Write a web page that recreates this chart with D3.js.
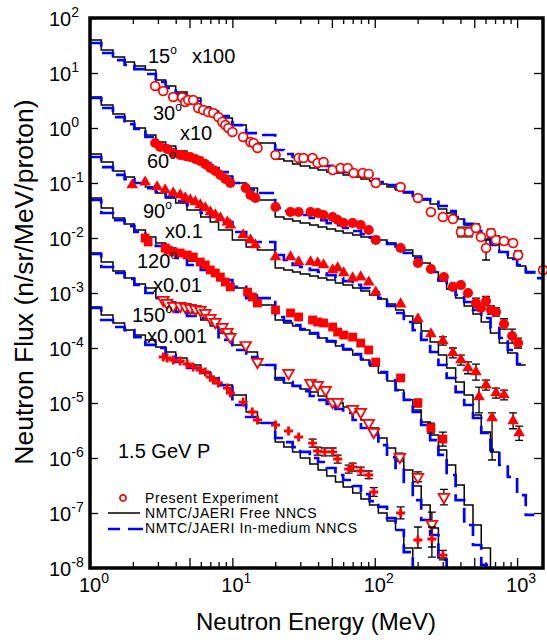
<!DOCTYPE html>
<html>
<head>
<meta charset="utf-8">
<script src="https://cdn.jsdelivr.net/npm/d3@7"></script>
<style>
  body { margin: 0; background: #fff; }
  svg { display: block; }
  text { font-family: "Liberation Sans", Arial, sans-serif; fill: #000; }
</style>
</head>
<body>
<svg id="chart" width="547" height="642"></svg>
<script>
// histogram bin edges (MeV), shared by every calculation
const binEdges = [1, 1.2, 1.45, 1.75, 2.05, 2.45, 2.9, 3.4, 4, 4.8, 6, 7, 8, 10, 12.5, 15, 20,
  23, 26.5, 30, 35, 40, 46, 53, 60, 70, 80, 92, 106, 122, 140, 160, 185, 212, 245, 280, 320,
  370, 425, 490, 560, 650, 750, 860, 1000, 1150, 1320, 1520];

// NMTC/JAERI free NNCS (black) and in-medium NNCS (blue), one value per bin, already scaled
const free15 = [39.8, 26.2, 19.5, 15.8, 13.4, 11.3, 7.46, 5.8, 4.52, 3.51, 2.41, 2.04, 1.52, 1.13, 0.556, 0.534,
  0.273, 0.251, 0.221, 0.204, 0.187, 0.172, 0.158, 0.152, 0.140, 0.129, 0.118, 0.109, 0.096, 0.0846, 0.0746,
  0.0658, 0.0581, 0.0491, 0.0415, 0.0337, 0.0285, 0.0221, 0.0172, 0.01285, 0.0096, 0.00746, 0.00556, 0.00433, 0.0031, 0.00231];
const medium15 = [35.1, 23.1, 17.2, 14.0, 11.8, 9.6, 6.86, 5.34, 4.15, 3.1, 2.31, 1.95, 1.65, 1.13, 0.81, 0.746,
  0.398, 0.337, 0.297, 0.273, 0.251, 0.221, 0.204, 0.18, 0.158, 0.146, 0.134, 0.118, 0.104, 0.092, 0.081,
  0.0686, 0.0581, 0.0512, 0.0452, 0.0382, 0.031, 0.0241, 0.018, 0.0134, 0.01, 0.00746, 0.00556, 0.00415, 0.00323, 0.00241, 0.00187];

const free30 = [3.66, 2.62, 1.8, 1.34, 1.0, 0.746, 0.556, 0.471, 0.382, 0.297, 0.221, 0.172, 0.134, 0.1, 0.081, 0.0491,
  0.0241, 0.0221, 0.0204, 0.0187, 0.0172, 0.0158, 0.0146, 0.0134, 0.0123, 0.01135, 0.0104, 0.01, 0.0092, 0.0081,
  0.00686, 0.00605, 0.00471, 0.00351, 0.00241, 0.00165, 0.00118, 0.00081, 0.00058, 0.000415, 0.000297, 0.000188,
  0.000123, 0.000081, 0.000049];
const medium30 = [3.51, 2.31, 1.58, 1.18, 0.959, 0.686, 0.491, 0.415, 0.323, 0.262, 0.231, 0.187, 0.158, 0.1, 0.0746, 0.0658,
  0.0351, 0.031, 0.0285, 0.0262, 0.0231, 0.0212, 0.0187, 0.0172, 0.0152, 0.0134, 0.0118, 0.0104, 0.0092, 0.00778,
  0.00658, 0.00534, 0.00433, 0.00323, 0.00241, 0.00172, 0.00123, 0.00092, 0.000686, 0.000491, 0.000351, 0.000231,
  0.000152, 0.000092, 0.0000512];

const free60 = [0.337, 0.241, 0.165, 0.129, 0.1, 0.0846, 0.0658, 0.0534, 0.0433, 0.0323, 0.0241, 0.0195, 0.014, 0.0092, 0.00686, 0.00605,
  0.00285, 0.00262, 0.00241, 0.00221, 0.00204, 0.00187, 0.00172, 0.00152, 0.0014, 0.00123, 0.00109, 0.00092,
  0.000778, 0.00063, 0.000491, 0.000382, 0.000285, 0.000204, 0.000129, 0.0000746, 0.0000433, 0.0000241,
  0.000014, 0.00000605, 0.00000297, 0.00000129];
const medium60 = [0.297, 0.195, 0.14, 0.118, 0.1, 0.081, 0.0686, 0.0556, 0.0471, 0.0398, 0.0285, 0.0241, 0.0195, 0.01285, 0.00846, 0.00846,
  0.00491, 0.00398, 0.00323, 0.00297, 0.00262, 0.00241, 0.00212, 0.00187, 0.00165, 0.0014, 0.00123, 0.00104,
  0.00081, 0.00058, 0.000433, 0.000297, 0.000212, 0.00014, 0.0000846, 0.0000491, 0.0000285, 0.0000158,
  0.0000092, 0.00000534, 0.00000285, 0.0000014, 0.000000746, 0.000000452, 0.000000212, 0.0000000921];

const free90 = [0.0534, 0.0351, 0.0231, 0.018, 0.014, 0.0104, 0.0081, 0.00658, 0.00512, 0.00382, 0.00285, 0.00231, 0.00172, 0.00123, 0.00092, 0.000605,
  0.000323, 0.000285, 0.000251, 0.000212, 0.00018, 0.000152, 0.000129, 0.000109, 0.000092, 0.0000746, 0.0000605,
  0.0000471, 0.0000351, 0.0000251, 0.0000172, 0.0000114, 0.00000746, 0.00000452, 0.00000262, 0.0000014,
  0.000000746, 0.000000323, 0.00000014, 0.0000000605, 0.0000000231, 0.000000005];
const medium90 = [0.0491, 0.0285, 0.0212, 0.0165, 0.01285, 0.00846, 0.00716, 0.00556, 0.00433, 0.00323, 0.00262, 0.00212, 0.00172, 0.00129, 0.00081, 0.00081,
  0.000366, 0.00031, 0.000262, 0.000221, 0.000187, 0.000158, 0.000134, 0.000113, 0.0000959, 0.0000778, 0.0000631,
  0.0000512, 0.0000366, 0.0000262, 0.0000172, 0.0000114, 0.00000686, 0.00000398, 0.00000212, 0.00000114,
  0.000000491, 0.000000172, 0.0000000605, 0.0000000262, 0.0000000114, 0.000000005];

const free120 = [0.00534, 0.00366, 0.00251, 0.00187, 0.00146, 0.00123, 0.00081, 0.000686, 0.000556, 0.000433, 0.000323, 0.000251, 0.000187, 0.000113, 0.0000846, 0.0000491,
  2.62e-5, 2.31e-5, 2.04e-5, 1.8e-5, 1.58e-5, 1.34e-5, 1.18e-5, 1.0e-5, 8.46e-6, 6.86e-6, 4.91e-6, 3.51e-6,
  2.31e-6, 1.52e-6, 1.0e-6, 6.05e-7, 3.1e-7, 1.4e-7, 5.34e-8, 1.52e-8, 5e-9];
const medium120 = [0.00512, 0.00297, 0.00231, 0.0018, 0.0014, 0.001, 0.00081, 0.000658, 0.000452, 0.000382, 0.000351, 0.000241, 0.00014, 0.000092, 0.0000686, 0.0000491,
  2.85e-5, 2.41e-5, 2.04e-5, 1.65e-5, 1.34e-5, 1.14e-5, 9.6e-6, 7.78e-6, 6.58e-6, 4.91e-6, 3.51e-6, 2.62e-6,
  1.72e-6, 1.04e-6, 6.58e-7, 3.66e-7, 1.72e-7, 7.46e-8, 3.98e-8, 1.4e-8, 5e-9];

const free150 = [5.56e-4, 3.98e-4, 2.85e-4, 2.12e-4, 1.72e-4, 1.4e-4, 1.04e-4, 8.46e-5, 6.58e-5, 4.91e-5, 3.66e-5, 2.85e-5, 2.12e-5, 1.4e-5, 6.86e-6, 4.33e-6,
  1.95e-6, 1.58e-6, 1.29e-6, 1.0e-6, 7.78e-7, 6.05e-7, 4.71e-7, 3.66e-7, 2.97e-7, 2.31e-7, 1.8e-7, 1.4e-7,
  1.0e-7, 7.16e-8, 4.91e-8, 2.31e-8, 5e-9];
const medium150 = [5.34e-4, 3.23e-4, 2.41e-4, 2.12e-4, 1.58e-4, 1.14e-4, 1.0e-4, 7.46e-5, 5.56e-5, 4.33e-5, 3.51e-5, 2.85e-5, 2.12e-5, 9.2e-6, 5.56e-6, 4.33e-6,
  2.31e-6, 1.95e-6, 1.58e-6, 1.29e-6, 1.0e-6, 8.46e-7, 6.58e-7, 4.91e-7, 3.98e-7, 3.1e-7, 2.21e-7, 1.65e-7,
  1.29e-7, 8.1e-8, 4.91e-8, 1.95e-8, 5e-9];

// present experiment: [energy, flux] or [energy, flux, low, high]
const exp15 = [[2.87, 5.8], [3.27, 4.7], [3.84, 3.66], [4.44, 3.6], [4.67, 2.97], [4.9, 3.23], [5.31, 3.23], [5.76, 2.31],
  [6.25, 2.12], [6.78, 1.95], [7.35, 1.87], [7.97, 1.58], [8.5, 1.29], [8.93, 1.13], [9.37, 1.0], [10.0, 0.846],
  [11.9, 0.686], [13.4, 0.556], [14.1, 0.534], [15.0, 0.433], [20.1, 0.323], [29.2, 0.285], [31.6, 0.285],
  [36.6, 0.285], [39.7, 0.231], [43.7, 0.241], [50.6, 0.172], [57.6, 0.187], [64.6, 0.187], [71.1, 0.152],
  [82.3, 0.152], [90.7, 0.146], [101.6, 0.1], [152, 0.0846], [201, 0.0534], [248, 0.0297], [301, 0.0241],
  [354, 0.0221], [403, 0.01285, 0.0105, 0.0158], [459, 0.01285, 0.0105, 0.0158], [514, 0.0152, 0.0129, 0.018],
  [557, 0.0104], [605, 0.00658, 0.00398, 0.0092], [656, 0.0123, 0.0104, 0.0145], [711, 0.0092, 0.0078, 0.0109],
  [809, 0.0088, 0.0077, 0.01], [937, 0.0081, 0.0071, 0.0092], [1016, 0.0049, 0.0042, 0.0058], [1524, 0.00262, 0.0023, 0.003]];

const exp30 = [[2.87, 0.534], [3.11, 0.452], [3.48, 0.415], [3.84, 0.351], [4.30, 0.323], [4.67, 0.31], [5.06, 0.297],
  [5.49, 0.273], [5.95, 0.251], [6.45, 0.221], [7.0, 0.187], [7.59, 0.165], [8.23, 0.14], [8.93, 0.118], [9.68, 0.1],
  [12.4, 0.081], [13.4, 0.0605], [14.5, 0.0534], [20.1, 0.0366], [25.6, 0.0297], [29.2, 0.0297], [35.4, 0.0297],
  [39.7, 0.0285], [43.7, 0.0262], [50.6, 0.0241], [54.9, 0.0212], [60.5, 0.0187], [70.0, 0.0187], [79.7, 0.0172],
  [90.7, 0.014], [101.6, 0.0092], [152, 0.00658], [201, 0.00351], [248, 0.00273], [306, 0.00195], [354, 0.00129],
  [403, 0.0014], [452, 0.001], [514, 0.000658, 0.00054, 0.00081], [557, 0.000534], [605, 0.000716, 0.00059, 0.00087],
  [656, 0.000491, 0.00041, 0.00058], [711, 0.000452, 0.00038, 0.00054], [809, 0.000273, 0.00022, 0.00034],
  [922, 0.000165, 0.000123, 0.00022], [1016, 0.000123, 0.0001, 0.000151]];

const exp60 = [[1.98, 0.092], [2.44, 0.104], [2.96, 0.0846], [3.37, 0.0746], [3.84, 0.0658], [4.30, 0.0605], [4.67, 0.0534],
  [5.06, 0.0491], [5.49, 0.0452], [5.95, 0.0398], [6.45, 0.0351], [7.0, 0.0297], [7.59, 0.0262], [8.23, 0.0231],
  [9.22, 0.0195], [9.68, 0.0172], [11.9, 0.01135], [13.4, 0.0092], [14.5, 0.00746], [20.1, 0.00452], [25.6, 0.00452],
  [29.2, 0.00366], [35.4, 0.00366], [39.7, 0.00351], [43.7, 0.00323], [50.6, 0.00262], [54.9, 0.00285], [60.5, 0.00231],
  [70.0, 0.00187], [79.7, 0.00195], [90.7, 0.00158], [101.6, 0.00104], [152, 0.00063], [201, 0.000337], [248, 0.00018],
  [301, 0.000134, 0.000113, 0.000159], [354, 8.1e-5, 6.6e-5, 1.0e-4], [403, 6.05e-5, 4.9e-5, 7.4e-5],
  [452, 4.33e-5, 3.4e-5, 5.6e-5], [514, 3.66e-5, 2.6e-5, 5.1e-5], [540, 1.29e-5, 6.6e-6, 1.95e-5],
  [605, 2.12e-5, 1.72e-5, 2.6e-5], [667, 5.34e-6, 9.2e-7, 6.6e-6], [711, 1.52e-5, 1.23e-5, 1.87e-5],
  [809, 1.4e-5, 1.14e-5, 1.72e-5], [937, 4.71e-6, 3.4e-6, 6.6e-6], [1033, 2.85e-6, 2.1e-6, 3.8e-6]];

const exp90 = [[2.44, 0.01], [2.56, 0.00846], [3.37, 0.00658], [3.54, 0.00605], [3.84, 0.00556], [4.30, 0.00534],
  [4.82, 0.00491], [5.31, 0.00452], [5.95, 0.00366], [6.45, 0.00323], [7.0, 0.00262], [7.59, 0.00231], [8.23, 0.00195],
  [8.93, 0.00158], [9.68, 0.00129], [12.8, 0.00104], [13.8, 0.000846], [15.0, 0.000658], [20.1, 0.000491],
  [25.6, 0.000433], [29.2, 0.000366], [36.6, 0.000323], [39.7, 0.000297], [43.7, 0.000285], [50.6, 0.000241],
  [54.9, 0.000195], [60.5, 0.000172], [70.0, 0.000158], [79.7, 0.000123], [90.7, 9.2e-5], [101.6, 5.56e-5],
  [152, 2.85e-5, 2.5e-5, 3.2e-5], [201, 1.0e-5, 8.5e-6, 1.18e-5], [248, 3.51e-6, 2.85e-6, 4.3e-6],
  [301, 2.21e-6, 1.65e-6, 2.95e-6]];

const exp120 = [[3.27, 7.46e-4], [3.48, 6.58e-4], [3.84, 5.8e-4], [4.30, 5.8e-4], [4.67, 5.56e-4], [5.06, 5.34e-4],
  [5.49, 5.12e-4], [5.95, 4.91e-4], [6.45, 4.33e-4], [7.0, 3.51e-4], [7.59, 2.97e-4], [8.5, 2.41e-4], [9.22, 1.95e-4],
  [9.68, 1.58e-4], [12.4, 1.13e-4], [15.0, 5.56e-5], [24.8, 3.51e-5], [35.4, 2.31e-5], [39.7, 2.12e-5],
  [45.2, 1.72e-5], [50.6, 1.04e-5], [54.9, 1.04e-5], [70.0, 7.78e-6], [79.7, 6.86e-6], [90.7, 4.33e-6],
  [98.4, 2.97e-6], [150, 1.04e-6, 8.8e-7, 1.23e-6], [201, 4.52e-7, 3.7e-7, 5.6e-7], [252, 6.3e-8, 2.41e-8, 1.04e-7],
  [306, 1.95e-7, 1.4e-7, 2.7e-7]];

const exp150 = [[3.27, 6.86e-5], [3.48, 6.58e-5], [3.84, 6.05e-5], [4.30, 5.8e-5], [4.82, 5.12e-5], [5.31, 4.52e-5],
  [5.95, 3.98e-5], [6.45, 3.66e-5], [7.0, 2.97e-5], [7.35, 2.62e-5], [7.97, 2.31e-5], [9.22, 1.87e-5], [9.68, 1.52e-5],
  [11.9, 1.04e-5], [13.8, 6.86e-6], [15.0, 4.91e-6], [20.1, 3.98e-6], [24.8, 3.1e-6], [29.2, 2.41e-6],
  [36.6, 1.87e-6, 1.58e-6, 2.2e-6], [39.7, 1.34e-6, 1.13e-6, 1.58e-6], [44.5, 1.29e-6, 1.09e-6, 1.52e-6],
  [50.6, 1.29e-6, 1.09e-6, 1.52e-6], [54.9, 9.6e-7, 8.1e-7, 1.13e-6], [65.6, 6.3e-7, 5.3e-7, 7.4e-7],
  [70.0, 6.86e-7, 5.8e-7, 8.1e-7], [79.7, 5.8e-7, 4.9e-7, 6.8e-7], [90.7, 4.91e-7, 4.2e-7, 5.8e-7],
  [98.4, 2.41e-7, 2.0e-7, 2.9e-7], [152, 1.0e-7, 7.8e-8, 1.29e-7], [201, 3.23e-8, 2.31e-8, 5.56e-8],
  [252, 3.37e-8, 1.58e-8, 5.56e-8], [301, 1.72e-8, 1.4e-8, 2.1e-8]];

const xTickLabels = ['0', '1', '2', '3'];
const yTickLabels = ['2', '1', '0', '-1', '-2', '-3', '-4', '-5', '-6', '-7', '-8'];
const legendText = ['Present Experiment', 'NMTC/JAERI Free NNCS', 'NMTC/JAERI In-medium NNCS'];

const angles = [
  { angle: '15', factor: 'x100', free: free15, medium: medium15, exp: exp15, marker: 'openCircle',
    labelAt: [148, 63], factorAt: [192, 63] },
  { angle: '30', factor: 'x10', free: free30, medium: medium30, exp: exp30, marker: 'circle',
    labelAt: [153, 120], factorAt: [180, 140] },
  { angle: '60', factor: '', free: free60, medium: medium60, exp: exp60, marker: 'triangle',
    labelAt: [147, 168], factorAt: null },
  { angle: '90', factor: 'x0.1', free: free90, medium: medium90, exp: exp90, marker: 'square',
    labelAt: [143, 218], factorAt: [165, 238] },
  { angle: '120', factor: 'x0.01', free: free120, medium: medium120, exp: exp120, marker: 'openDown',
    labelAt: [137, 268], factorAt: [153, 292] },
  { angle: '150', factor: 'x0.001', free: free150, medium: medium150, exp: exp150, marker: 'plus',
    labelAt: [132, 322], factorAt: [147, 343] },
];

const RED = '#ff0000';
const BLUE = '#0000ff';
const PLOT = { left: 90, right: 543, top: 18, bottom: 568 };

const svg = d3.select('#chart');
const x = d3.scaleLog().domain([1, 1520]).range([PLOT.left, PLOT.right]);
const y = d3.scaleLog().domain([1e-8, 1e2]).range([PLOT.bottom, PLOT.top]);

svg.append('defs').append('clipPath').attr('id', 'plot-clip')
  .append('rect')
  .attr('x', PLOT.left).attr('y', PLOT.top)
  .attr('width', PLOT.right - PLOT.left).attr('height', PLOT.bottom - PLOT.top);

// ---- ticks (all inward) ----
const allX = x.ticks();
const allY = y.ticks();
const lead = v => Math.round(v / Math.pow(10, Math.floor(Math.log10(v) + 1e-9)));
const xLong = allX.filter(v => lead(v) === 1 || lead(v) === 5);
const xShort = allX.filter(v => !(lead(v) === 1 || lead(v) === 5));
const yLong = allY.filter(v => lead(v) === 1);
const yShort = allY.filter(v => lead(v) !== 1);

function tickGroup(axisFn, scale, values, size, transform) {
  const g = svg.append('g').attr('transform', transform)
    .call(axisFn(scale).tickValues(values).tickSize(-size).tickSizeOuter(0).tickFormat(''));
  g.select('.domain').remove();
  g.selectAll('.tick line').attr('stroke', '#000').attr('stroke-width', 1.3);
  return g;
}
tickGroup(d3.axisBottom, x, xLong, 10, `translate(0,${PLOT.bottom})`);
tickGroup(d3.axisBottom, x, xShort, 6, `translate(0,${PLOT.bottom})`);
tickGroup(d3.axisTop, x, xLong, 10, `translate(0,${PLOT.top})`);
tickGroup(d3.axisTop, x, xShort, 6, `translate(0,${PLOT.top})`);
tickGroup(d3.axisLeft, y, yLong, 8, `translate(${PLOT.left},0)`);
tickGroup(d3.axisLeft, y, yShort, 4.5, `translate(${PLOT.left},0)`);
tickGroup(d3.axisRight, y, yLong, 9, `translate(${PLOT.right},0)`);
tickGroup(d3.axisRight, y, yShort, 5, `translate(${PLOT.right},0)`);

// x tick labels: "10" centred on the tick, exponent raised after it
xTickLabels.forEach((e, i) => {
  const t = svg.append('text')
    .attr('x', x(Math.pow(10, i)) - 11).attr('y', 592)
    .attr('font-size', 20);
  t.append('tspan').text('10');
  t.append('tspan').attr('dy', -9).attr('font-size', 14).text(e);
});
// y tick labels
yTickLabels.forEach((e, i) => {
  const t = svg.append('text')
    .attr('x', 49).attr('y', y(Math.pow(10, 2 - i)) + 7.5)
    .attr('font-size', 20);
  t.append('tspan').text('10');
  t.append('tspan').attr('dy', -8.5).attr('font-size', 14).text(e);
});

// axis titles
svg.append('text')
  .attr('x', 316).attr('y', 630).attr('text-anchor', 'middle').attr('font-size', 24)
  .text('Neutron Energy (MeV)');
svg.append('text')
  .attr('transform', 'translate(33,282) rotate(-90)')
  .attr('text-anchor', 'middle').attr('font-size', 26.5)
  .text('Neutron Flux (n/sr/MeV/proton)');

// ---- histograms ----
const stepLine = d3.line().x(d => x(d[0])).y(d => y(d[1])).curve(d3.curveStepAfter);
const stepPoints = vals => {
  const pts = vals.map((v, i) => [binEdges[i], v]);
  pts.push([binEdges[vals.length], vals[vals.length - 1]]);
  return pts;
};

const curves = svg.append('g').attr('clip-path', 'url(#plot-clip)');
angles.forEach(a => {
  curves.append('path')
    .attr('d', stepLine(stepPoints(a.free)))
    .attr('fill', 'none').attr('stroke', '#000').attr('stroke-width', 1.5);
});
angles.forEach(a => {
  curves.append('path')
    .attr('d', stepLine(stepPoints(a.medium)))
    .attr('fill', 'none').attr('stroke', BLUE).attr('stroke-width', 2.7)
    .attr('stroke-dasharray', '15,7');
});

// ---- experiment ----
const markers = svg.append('g');
const symbolPath = {
  openCircle: d3.symbol(d3.symbolCircle, 62)(),
  circle: d3.symbol(d3.symbolCircle, 80)(),
  triangle: d3.symbol(d3.symbolTriangle, 58)(),
  square: d3.symbol(d3.symbolSquare, 78)(),
  openDown: d3.symbol(d3.symbolTriangle, 50)(),
  legendCircle: d3.symbol(d3.symbolCircle, 30)(),
};

function drawMarker(g, kind, px, py) {
  if (kind === 'plus') {
    g.append('path')
      .attr('d', `M${px - 4.5},${py}H${px + 4.5}M${px},${py - 4.5}V${py + 4.5}`)
      .attr('stroke', RED).attr('stroke-width', 2.8).attr('fill', 'none');
    return;
  }
  const p = g.append('path').attr('d', symbolPath[kind]);
  if (kind === 'openCircle' || kind === 'legendCircle') {
    p.attr('transform', `translate(${px},${py})`)
      .attr('fill', '#fff').attr('stroke', RED).attr('stroke-width', 1.7);
  } else if (kind === 'openDown') {
    p.attr('transform', `translate(${px},${py}) rotate(180)`)
      .attr('fill', '#fff').attr('stroke', RED).attr('stroke-width', 1.7);
  } else {
    p.attr('transform', `translate(${px},${py})`).attr('fill', RED);
  }
}

angles.forEach(a => {
  const withErr = a.exp.filter(d => d.length === 4);
  const eb = markers.append('g').attr('stroke', '#000').attr('stroke-width', 1.3);
  withErr.forEach(d => {
    const px = x(d[0]);
    eb.append('path')
      .attr('d', `M${px},${y(d[2])}V${y(d[3])}M${px - 4},${y(d[2])}H${px + 4}M${px - 4},${y(d[3])}H${px + 4}`)
      .attr('fill', 'none');
  });
  a.exp.forEach(d => drawMarker(markers, a.marker, x(d[0]), y(d[1])));
});

// ---- annotations ----
angles.forEach(a => {
  const t = svg.append('text')
    .attr('x', a.labelAt[0]).attr('y', a.labelAt[1]).attr('font-size', 20);
  t.append('tspan').text(a.angle);
  t.append('tspan').attr('dy', -9).attr('font-size', 12).text('o');
  if (a.factorAt) {
    svg.append('text')
      .attr('x', a.factorAt[0]).attr('y', a.factorAt[1]).attr('font-size', 20)
      .text(a.factor);
  }
});
svg.append('text')
  .attr('x', 118).attr('y', 458).attr('font-size', 20)
  .text('1.5 GeV P');

// ---- legend ----
const legend = svg.append('g');
drawMarker(legend, 'legendCircle', 123, 498);
legend.append('line').attr('x1', 108).attr('x2', 140).attr('y1', 513).attr('y2', 513)
  .attr('stroke', '#000').attr('stroke-width', 1.5);
legend.append('line').attr('x1', 108).attr('x2', 143).attr('y1', 529).attr('y2', 529)
  .attr('stroke', BLUE).attr('stroke-width', 2.7).attr('stroke-dasharray', '12,8,15,40');
legendText.forEach((s, i) => {
  legend.append('text').attr('x', 145).attr('y', 503 + i * 15)
    .attr('font-size', 14).attr('letter-spacing', 0.6).text(s);
});

// ---- frame ----
svg.append('rect')
  .attr('x', PLOT.left).attr('y', PLOT.top)
  .attr('width', PLOT.right - PLOT.left).attr('height', PLOT.bottom - PLOT.top)
  .attr('fill', 'none').attr('stroke', '#000').attr('stroke-width', 3.5);
</script>
</body>
</html>
